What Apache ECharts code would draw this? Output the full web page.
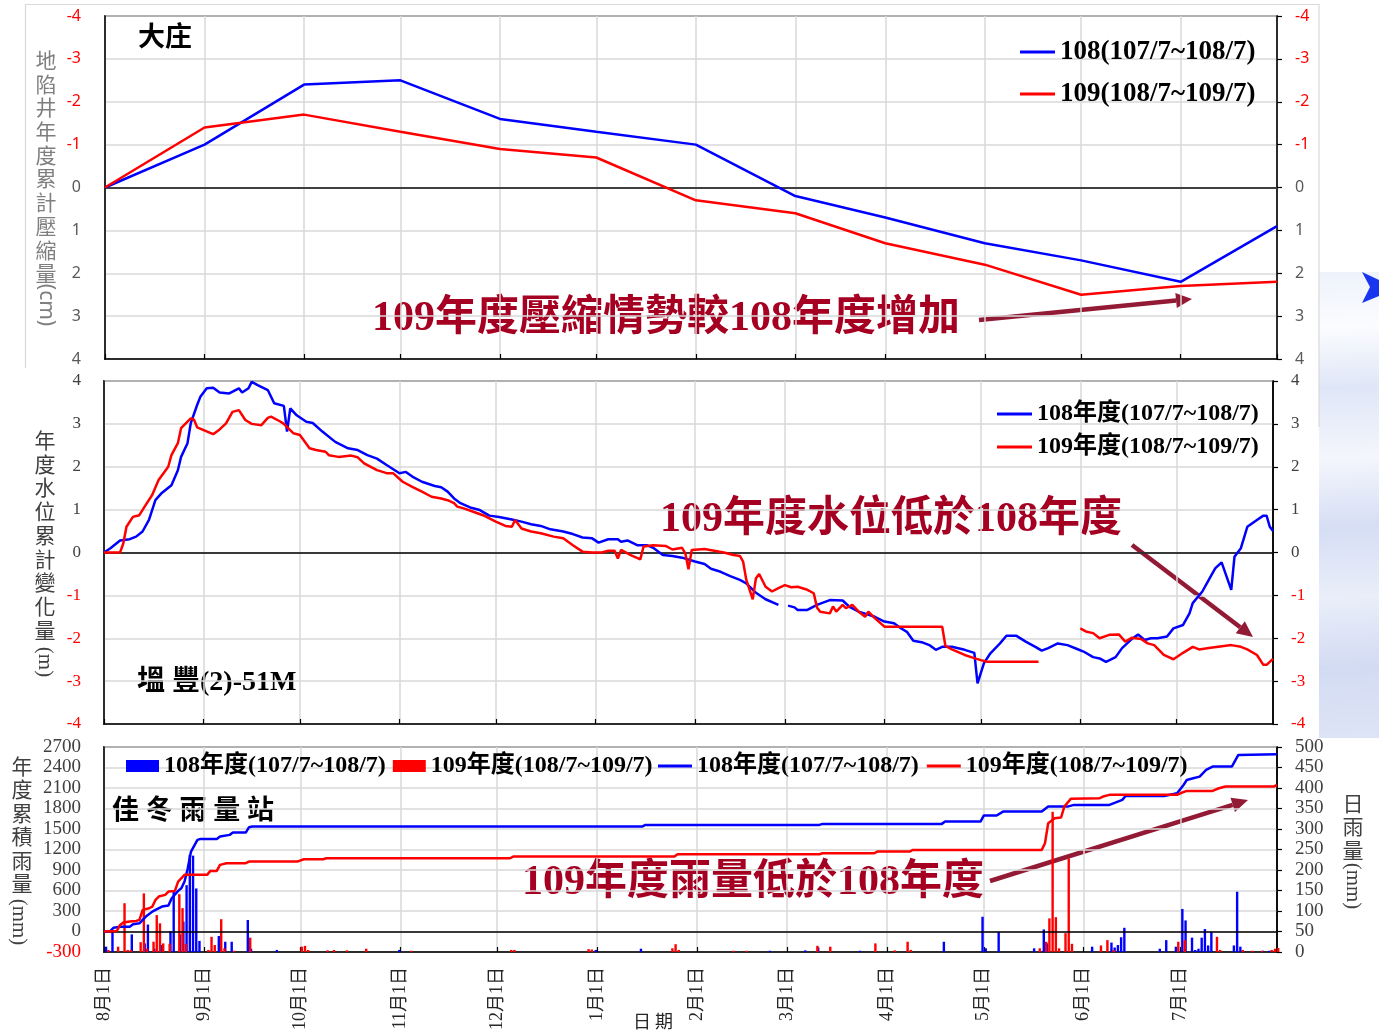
<!DOCTYPE html>
<html>
<head>
<meta charset="utf-8">
<script src="https://cdn.jsdelivr.net/npm/echarts@6/dist/echarts.min.js"></script>
<style>
  html, body { margin: 0; padding: 0; background: #ffffff; }
  #chart { width: 1379px; height: 1031px; }
</style>
</head>
<body>
<div id="chart"></div>
<script>
// ---------- calendar helpers ----------
const MONTH_DAYS = {1:31, 2:28, 3:31, 4:30, 5:31, 6:30, 7:31, 8:31, 9:30, 10:31, 11:30, 12:31};
const MONTHS_FROM_JUL = [7, 8, 9, 10, 11, 12, 1, 2, 3, 4, 5, 6];
const MONTHS_FROM_AUG = [8, 9, 10, 11, 12, 1, 2, 3, 4, 5, 6, 7];

// ---------- 大庄 subsidence well: yearly cumulative compaction (cm), one value per month start ----------
const subsidence108 = [0, -1.0, -2.4, -2.5, -1.6, -1.3, -1.0, 0.2, 0.7, 1.3, 1.7, 2.2, 0.9];
const subsidence109 = [0, -1.4, -1.7, -1.3, -0.9, -0.7, 0.3, 0.6, 1.3, 1.8, 2.5, 2.3, 2.2];

// ---------- 塭豐(2)-51M: yearly cumulative water-level change (m), [day since 8/1, value] ----------
const waterLevel108 = [[0,0],[2,0.10],[5,0.28],[8,0.31],[10,0.37],[12,0.49],[14,0.76],[16,1.22],[18,1.39],[21,1.57],[23,1.92],[24,2.23],[26,2.55],[27,3.01],[29,3.44],[30,3.63],[32,3.83],[34,3.84],[36,3.73],[39,3.71],[42,3.83],[43,3.73],[45,3.83],[46,3.98],[48,3.90],[51,3.79],[53,3.48],[56,3.42],[57,2.82],[58,3.36],[60,3.20],[63,3.05],[65,3.02],[68,2.82],[72,2.58],[76,2.43],[79,2.39],[82,2.27],[85,2.19],[88,2.04],[92,1.85],[94,1.88],[96,1.77],[99,1.65],[103,1.55],[105,1.52],[107,1.42],[109,1.26],[111,1.15],[114,1.05],[117,0.99],[120,0.86],[123,0.83],[127,0.77],[130,0.72],[133,0.66],[136,0.62],[139,0.54],[143,0.49],[146,0.43],[149,0.35],[152,0.33],[154,0.23],[157,0.31],[160,0.31],[161,0.25],[163,0.28],[166,0.17],[169,0.17],[171,0.11],[174,-0.06],[177,-0.08],[180,-0.12],[184,-0.21],[187,-0.27],[189,-0.38],[192,-0.45],[195,-0.55],[198,-0.64],[200,-0.72],[203,-0.94],[206,-1.09],[210,-1.22],[211,null],[213,-1.24],[215,-1.28],[216,-1.34],[219,-1.34],[222,-1.22],[226,-1.11],[230,-1.12],[232,-1.26],[235,-1.38],[240,-1.50],[243,-1.61],[246,-1.65],[248,-1.76],[250,-1.85],[252,-2.06],[255,-2.10],[257,-2.16],[259,-2.27],[261,-2.20],[264,-2.20],[268,-2.27],[271,-2.34],[272,-3.05],[274,-2.58],[276,-2.35],[279,-2.12],[281,-1.94],[284,-1.94],[287,-2.08],[290,-2.20],[292,-2.29],[294,-2.23],[297,-2.12],[300,-2.16],[303,-2.25],[305,-2.31],[308,-2.44],[310,-2.47],[312,-2.55],[315,-2.44],[317,-2.23],[320,-2.02],[322,-1.91],[324,-2.04],[326,-2.00],[328,-2.00],[331,-1.96],[333,-1.77],[336,-1.69],[338,-1.42],[339,-1.18],[342,-0.91],[344,-0.64],[346,-0.37],[348,-0.23],[351,-0.87],[352,-0.10],[354,0.10],[356,0.60],[359,0.76],[361,0.86],[362,0.86],[363,0.60],[364,0.50]];
const waterLevel109 = [[0,0],[3,0],[5,0],[6,0.21],[7,0.60],[9,0.83],[11,0.87],[13,1.11],[15,1.34],[17,1.69],[20,2.00],[21,2.27],[23,2.55],[24,2.90],[27,3.13],[28,3.10],[29,2.92],[34,2.76],[36,2.87],[38,3.01],[40,3.28],[42,3.32],[44,3.09],[46,3.00],[49,2.97],[51,3.14],[52,3.17],[55,3.05],[56,3.00],[59,2.78],[61,2.74],[64,2.43],[66,2.39],[69,2.35],[70,2.27],[73,2.23],[77,2.26],[79,2.22],[81,2.08],[85,1.92],[88,1.85],[90,1.85],[93,1.65],[96,1.53],[99,1.42],[102,1.30],[105,1.26],[107,1.22],[109,1.15],[110,1.07],[112,1.03],[115,0.95],[118,0.87],[122,0.72],[125,0.62],[127,0.60],[128,0.76],[130,0.56],[133,0.49],[136,0.45],[140,0.37],[143,0.33],[146,0.17],[149,0.02],[152,0],[155,0],[157,0.04],[159,0.04],[160,-0.14],[161,0.06],[164,-0.06],[167,-0.16],[168,0.14],[171,0.17],[175,0.15],[177,0.07],[180,0.11],[181,-0.02],[182,-0.39],[183,0.06],[187,0.08],[190,0.04],[193,0],[196,-0.06],[198,-0.08],[199,-0.21],[200,-0.64],[202,-1.09],[203,-0.60],[204,-0.50],[206,-0.80],[208,-0.91],[210,-0.83],[212,-0.76],[214,-0.81],[216,-0.80],[219,-0.87],[221,-0.95],[222,-1.28],[223,-1.38],[226,-1.42],[227,-1.26],[228,-1.38],[230,-1.22],[231,-1.30],[233,-1.22],[235,-1.38],[237,-1.50],[238,-1.38],[240,-1.53],[243,-1.73],[261,-1.73],[262,-2.18],[264,-2.26],[268,-2.39],[270,-2.44],[273,-2.51],[275,-2.55],[291,-2.55],[292,null],[304,-1.77],[306,-1.85],[308,-1.88],[310,-2.00],[313,-1.92],[316,-1.91],[318,-2.08],[320,-1.99],[323,-2.02],[325,-2.12],[327,-2.16],[330,-2.39],[333,-2.49],[336,-2.34],[339,-2.20],[341,-2.26],[344,-2.23],[347,-2.20],[351,-2.16],[354,-2.20],[356,-2.26],[359,-2.39],[361,-2.62],[362,-2.62],[364,-2.48]];

// ---------- 佳冬雨量站: daily rainfall (mm), [day since 8/1, value] ----------
const dailyRain108 = [[1,13],[3,48],[9,43],[13,21],[14,67],[16,8],[18,17],[21,51],[22,147],[24,43],[25,74],[26,163],[27,237],[28,235],[29,155],[30,27],[36,39],[38,25],[40,25],[45,78],[46,8],[54,5],[92,5],[153,5],[167,8],[207,3],[218,4],[222,11],[235,3],[261,25],[273,86],[274,9],[278,49],[289,9],[292,55],[293,21],[307,13],[313,23],[314,11],[315,17],[316,36],[317,59],[328,8],[330,29],[333,13],[335,105],[336,77],[338,35],[339,5],[340,8],[341,35],[342,56],[343,16],[344,49],[351,16],[352,147],[353,13],[360,3],[362,3]];
const dailyRain109 = [[1,5],[4,13],[6,119],[7,5],[8,5],[11,24],[12,143],[13,8],[15,25],[16,90],[17,70],[18,21],[20,20],[23,141],[24,107],[25,20],[32,5],[33,37],[34,17],[36,80],[37,9],[40,3],[45,35],[61,13],[62,15],[63,5],[69,4],[71,5],[75,4],[81,8],[95,3],[126,5],[127,5],[150,7],[151,6],[176,9],[177,19],[178,5],[195,3],[199,3],[221,15],[225,13],[239,21],[245,4],[249,25],[250,5],[290,9],[292,25],[293,82],[294,342],[295,85],[296,9],[298,46],[299,228],[300,20],[309,16],[311,29],[313,5],[333,25],[335,29],[345,37],[346,5],[353,5],[356,3],[359,3],[362,5],[363,8],[364,10]];

// ---------- 佳冬雨量站: yearly cumulative rainfall (mm), [day since 8/1, value] ----------
const cumRain108 = [[0,0],[2,8],[3,56],[5,70],[8,70],[9,105],[11,120],[12,170],[13,218],[15,291],[16,316],[18,365],[20,380],[21,487],[23,594],[24,633],[25,731],[26,926],[27,1170],[29,1340],[30,1355],[35,1355],[36,1389],[39,1414],[40,1448],[44,1448],[45,1526],[46,1536],[167,1536],[168,1560],[222,1560],[223,1575],[260,1575],[261,1609],[272,1609],[273,1697],[277,1697],[279,1755],[291,1755],[293,1828],[299,1828],[301,1853],[312,1853],[316,1926],[317,1984],[329,1984],[333,2023],[335,2144],[336,2217],[338,2242],[340,2266],[342,2364],[344,2413],[350,2413],[352,2584],[364,2594]];
const cumRain109 = [[0,0],[4,8],[5,96],[6,131],[8,145],[10,155],[11,170],[12,316],[14,340],[15,365],[16,463],[17,511],[19,536],[20,584],[22,594],[23,731],[25,829],[32,829],[33,887],[35,887],[36,975],[38,999],[44,999],[45,1023],[60,1023],[62,1058],[68,1058],[69,1072],[126,1072],[127,1096],[177,1096],[178,1131],[222,1131],[223,1145],[239,1145],[240,1170],[250,1170],[251,1194],[291,1194],[292,1292],[293,1585],[295,1658],[297,1668],[298,1828],[300,1941],[309,1951],[310,1975],[312,2000],[333,2000],[334,2023],[336,2057],[344,2057],[346,2096],[348,2121],[363,2121],[364,2145]];

// ---------- legend texts ----------
const LEGEND_TEXT = {
  sub108: '108(107/7~108/7)', sub109: '109(108/7~109/7)',
  lv108: '108年度(107/7~108/7)', lv109: '109年度(108/7~109/7)',
  rain108: '108年度(107/7~108/7)', rain109: '109年度(108/7~109/7)',
  cum108: '108年度(107/7~108/7)', cum109: '109年度(108/7~109/7)'
};

// daily category list; returns names and the indices where months begin
function buildDays(months, closingName) {
  const names = [], starts = new Set();
  months.forEach(m => {
    starts.add(names.length);
    for (let d = 1; d <= MONTH_DAYS[m]; d++) names.push(m + '月' + d + '日');
  });
  if (closingName) { starts.add(names.length); names.push(closingName); }
  return { names, starts };
}
const julYear = buildDays(MONTHS_FROM_JUL, '7月1日 ');
const augYear = buildDays(MONTHS_FROM_AUG, null);
const julStartIdx = [...julYear.starts];

const BLUE = '#0000ff', RED = '#ff0000';
const GRID_GRAY = '#d9d9d9';
const SERIF = '"Liberation Serif", "Noto Sans CJK TC", serif';
const CJK = '"Noto Sans CJK TC", sans-serif';
const NOTE_RED = '#a50021', ARROW_RED = '#931a34';

function xAxisCfg(gridIndex, days, showLabels) {
  const isStart = (i) => days.starts.has(i);
  return {
    gridIndex, type: 'category', data: days.names, boundaryGap: false,
    axisLine: { show: true, onZero: false, lineStyle: { color: '#000', width: 1.5 } },
    axisTick: { show: true, inside: true, length: 5, interval: isStart, lineStyle: { color: '#000', width: 1.2 } },
    splitLine: { show: true, interval: isStart, lineStyle: { color: GRID_GRAY, width: 1.5 } },
    axisLabel: showLabels ? {
      show: true, interval: isStart, rotate: 90, margin: 15,
      fontFamily: SERIF, fontSize: 18, color: '#262626'
    } : { show: false }
  };
}
function yAxisCfg(gridIndex, o) {
  return {
    gridIndex, type: 'value', min: o.min, max: o.max, interval: o.interval,
    inverse: !!o.inverse, position: o.position,
    axisLine: { show: true, lineStyle: { color: '#000', width: 1.5 } },
    axisTick: o.position === 'right'
      ? { show: true, inside: false, length: 5, lineStyle: { color: '#000', width: 1.2 } }
      : { show: false },
    splitLine: o.position === 'left'
      ? { show: true, lineStyle: { color: GRID_GRAY, width: 1.5 } } : { show: false },
    axisLabel: {
      margin: o.margin, fontFamily: o.font, fontSize: o.size,
      formatter: (v) => String(v),
      color: (v) => (Number(v) < 0 ? RED : o.color)
    }
  };
}
function zeroLine(color, width) {
  return {
    silent: true, symbol: ['none', 'none'], label: { show: false },
    lineStyle: { color, width, type: 'solid' }, data: [{ yAxis: 0 }]
  };
}
function lineSeries(name, xi, yi, data, color, extra) {
  return Object.assign({
    name, type: 'line', xAxisIndex: xi, yAxisIndex: yi, data,
    symbol: 'none', showSymbol: false, connectNulls: false,
    lineStyle: { color, width: 2.5 }, itemStyle: { color }, z: 5
  }, extra || {});
}

// vertical axis title: CJK stacked upright, latin part rotated
function verticalTitle(chars, x, firstY, pitch, color, latin, latinY, latinX, latinFont) {
  const els = chars.split('').map((c, i) => ({
    type: 'text', x, y: firstY + i * pitch,
    style: { text: c, font: '21px ' + CJK, fill: color, align: 'center', verticalAlign: 'middle' }
  }));
  els.push({
    type: 'text', x: latinX == null ? x : latinX, y: latinY, rotation: -Math.PI / 2,
    style: { text: latin, font: '21px ' + (latinFont || SERIF), fill: color, align: 'center', verticalAlign: 'middle' }
  });
  return els;
}
function arrow(x1, y1, x2, y2) {
  const a = Math.atan2(y2 - y1, x2 - x1), head = 16, half = 7.5;
  const bx = x2 - head * Math.cos(a), by = y2 - head * Math.sin(a);
  const px = -Math.sin(a) * half, py = Math.cos(a) * half;
  return [
    { type: 'line', shape: { x1, y1, x2: bx, y2: by }, style: { stroke: ARROW_RED, lineWidth: 4.5 } },
    { type: 'polygon', shape: { points: [[x2, y2], [bx + px, by + py], [bx - px, by - py]] }, style: { fill: ARROW_RED } }
  ];
}
function note(text, x, y) {
  return { type: 'text', x, y, style: { text, font: 'bold 42px ' + SERIF, fill: NOTE_RED, align: 'left', verticalAlign: 'middle' } };
}
function label(text, x, y, size) {
  return { type: 'text', x, y, style: { text, font: 'bold ' + size + 'px ' + SERIF, fill: '#000', align: 'left', verticalAlign: 'middle' } };
}

const graphics = [
  // slide backdrop at the right edge
  { type: 'rect', shape: { x: 1319, y: 272, width: 60, height: 466 },
    style: { fill: { type: 'linear', x: 0, y: 0, x2: 0.3, y2: 1, colorStops: [
      { offset: 0, color: '#eef2fb' }, { offset: 0.12, color: '#fbfcfe' }, { offset: 0.25, color: '#dfe6f7' },
      { offset: 0.4, color: '#f4f6fc' }, { offset: 0.55, color: '#d6def5' }, { offset: 0.7, color: '#e9eef9' },
      { offset: 0.85, color: '#d3dbf3' }, { offset: 1, color: '#dde4f6' } ] } }, z: -10 },
  { type: 'polygon', shape: { points: [[1362, 272], [1379, 280], [1379, 296], [1362, 303], [1370, 287]] },
    style: { fill: '#1a35f0' }, z: -9 },
  // frame of the upper chart block
  { type: 'polyline', shape: { points: [[25.5, 368], [25.5, 4.5], [1319, 4.5], [1319, 427]] },
    style: { stroke: GRID_GRAY, lineWidth: 1.2, fill: null }, z: -8 },

  label('大庄', 138, 39, 27),
  label('塭 豐(2)-51M', 137, 683, 28),
  { type: 'text', x: 112, y: 812, style: { text: '佳 冬 雨 量 站', font: 'bold 27px ' + SERIF, fill: '#000', align: 'left', verticalAlign: 'middle' } },

  ...verticalTitle('地陷井年度累計壓縮量', 46, 60, 23.7, '#7f7f7f', '(cm)', 305, null, '"Noto Sans", sans-serif'),
  ...verticalTitle('年度水位累計變化量', 45, 440, 23.75, '#404040', '(m)', 662),
  ...verticalTitle('年度累積雨量', 22, 766, 23.4, '#404040', '(mm)', 922, 19),
  ...verticalTitle('日雨量', 1353, 803, 23.5, '#404040', '(mm)', 886),
  { type: 'text', x: 653, y: 1021, style: { text: '日 期', font: '18px ' + CJK, fill: '#262626', align: 'center', verticalAlign: 'middle' } },

  note('109年度壓縮情勢較108年度增加', 372, 319),
  ...arrow(979, 320, 1192, 299),
  note('109年度水位低於108年度', 660, 520),
  ...arrow(1132, 545, 1253, 637),
  note('109年度雨量低於108年度', 522, 883),
  ...arrow(990, 881, 1248, 800)
];

const legendText = { fontFamily: SERIF, fontWeight: 'bold', color: '#000' };
const legendBase = { selectedMode: false, padding: 0, formatter: (n) => LEGEND_TEXT[n] };

const option = {
  animation: false,
  backgroundColor: '#ffffff',
  grid: [
    { left: 105, top: 16, width: 1172, height: 343, show: true, borderColor: '#000', borderWidth: 1.5, outerBoundsMode: 'none' },
    { left: 104, top: 381, width: 1169, height: 343, show: true, borderColor: '#000', borderWidth: 1.5, outerBoundsMode: 'none' },
    { left: 104, top: 747, width: 1173, height: 205, show: true, borderColor: '#000', borderWidth: 1.5, outerBoundsMode: 'none' }
  ],
  xAxis: [
    xAxisCfg(0, julYear, false),
    xAxisCfg(1, augYear, false),
    xAxisCfg(2, augYear, true)
  ],
  yAxis: [
    yAxisCfg(0, { min: -4, max: 4, interval: 1, inverse: true, position: 'left', margin: 24, font: '"Noto Sans", sans-serif', size: 16, color: '#595959' }),
    yAxisCfg(0, { min: -4, max: 4, interval: 1, inverse: true, position: 'right', margin: 18, font: '"Noto Sans", sans-serif', size: 16, color: '#595959' }),
    yAxisCfg(1, { min: -4, max: 4, interval: 1, position: 'left', margin: 23, font: SERIF, size: 17, color: '#404040' }),
    yAxisCfg(1, { min: -4, max: 4, interval: 1, position: 'right', margin: 18, font: SERIF, size: 17, color: '#404040' }),
    yAxisCfg(2, { min: -300, max: 2700, interval: 300, position: 'left', margin: 23, font: SERIF, size: 19, color: '#404040' }),
    yAxisCfg(2, { min: 0, max: 500, interval: 50, position: 'right', margin: 18, font: SERIF, size: 19, color: '#404040' })
  ],
  legend: [
    Object.assign({ data: ['sub108', 'sub109'], icon: 'rect', orient: 'vertical', left: 1020, top: 38,
      itemWidth: 35, itemHeight: 3, itemGap: 14,
      textStyle: Object.assign({ fontSize: 27, lineHeight: 28 }, legendText) }, legendBase),
    Object.assign({ data: ['lv108', 'lv109'], icon: 'rect', orient: 'vertical', left: 997, top: 402,
      itemWidth: 35, itemHeight: 3, itemGap: 9,
      textStyle: Object.assign({ fontSize: 24, lineHeight: 24 }, legendText) }, legendBase),
    Object.assign({ data: ['rain108', 'rain109'], icon: 'rect', orient: 'horizontal', left: 126, top: 754,
      itemWidth: 33, itemHeight: 12, itemGap: 7,
      textStyle: Object.assign({ fontSize: 24, lineHeight: 24 }, legendText) }, legendBase),
    Object.assign({ data: ['cum108', 'cum109'], icon: 'rect', orient: 'horizontal', left: 658, top: 754,
      itemWidth: 34, itemHeight: 3, itemGap: 8,
      textStyle: Object.assign({ fontSize: 24, lineHeight: 24 }, legendText) }, legendBase)
  ],
  graphic: { elements: graphics },
  series: [
    lineSeries('sub108', 0, 0, subsidence108.map((v, k) => [julStartIdx[k], v]), BLUE, { markLine: zeroLine('#404040', 2) }),
    lineSeries('sub109', 0, 0, subsidence109.map((v, k) => [julStartIdx[k], v]), RED),

    lineSeries('lv108', 1, 2, waterLevel108, BLUE, { markLine: zeroLine('#000', 1.5) }),
    lineSeries('lv109', 1, 2, waterLevel109, RED),

    { name: 'rain108', type: 'bar', xAxisIndex: 2, yAxisIndex: 5, data: dailyRain108,
      barWidth: 2.4, barGap: '0%', itemStyle: { color: BLUE }, z: 2 },
    { name: 'rain109', type: 'bar', xAxisIndex: 2, yAxisIndex: 5, data: dailyRain109,
      barWidth: 2.4, barGap: '0%', itemStyle: { color: RED }, z: 2 },
    lineSeries('cum108', 2, 4, cumRain108, BLUE, { markLine: zeroLine('#000', 1.5) }),
    lineSeries('cum109', 2, 4, cumRain109, RED)
  ]
};

const chart = echarts.init(document.getElementById('chart'), null, { renderer: 'canvas' });
chart.setOption(option);
</script>
</body>
</html>
